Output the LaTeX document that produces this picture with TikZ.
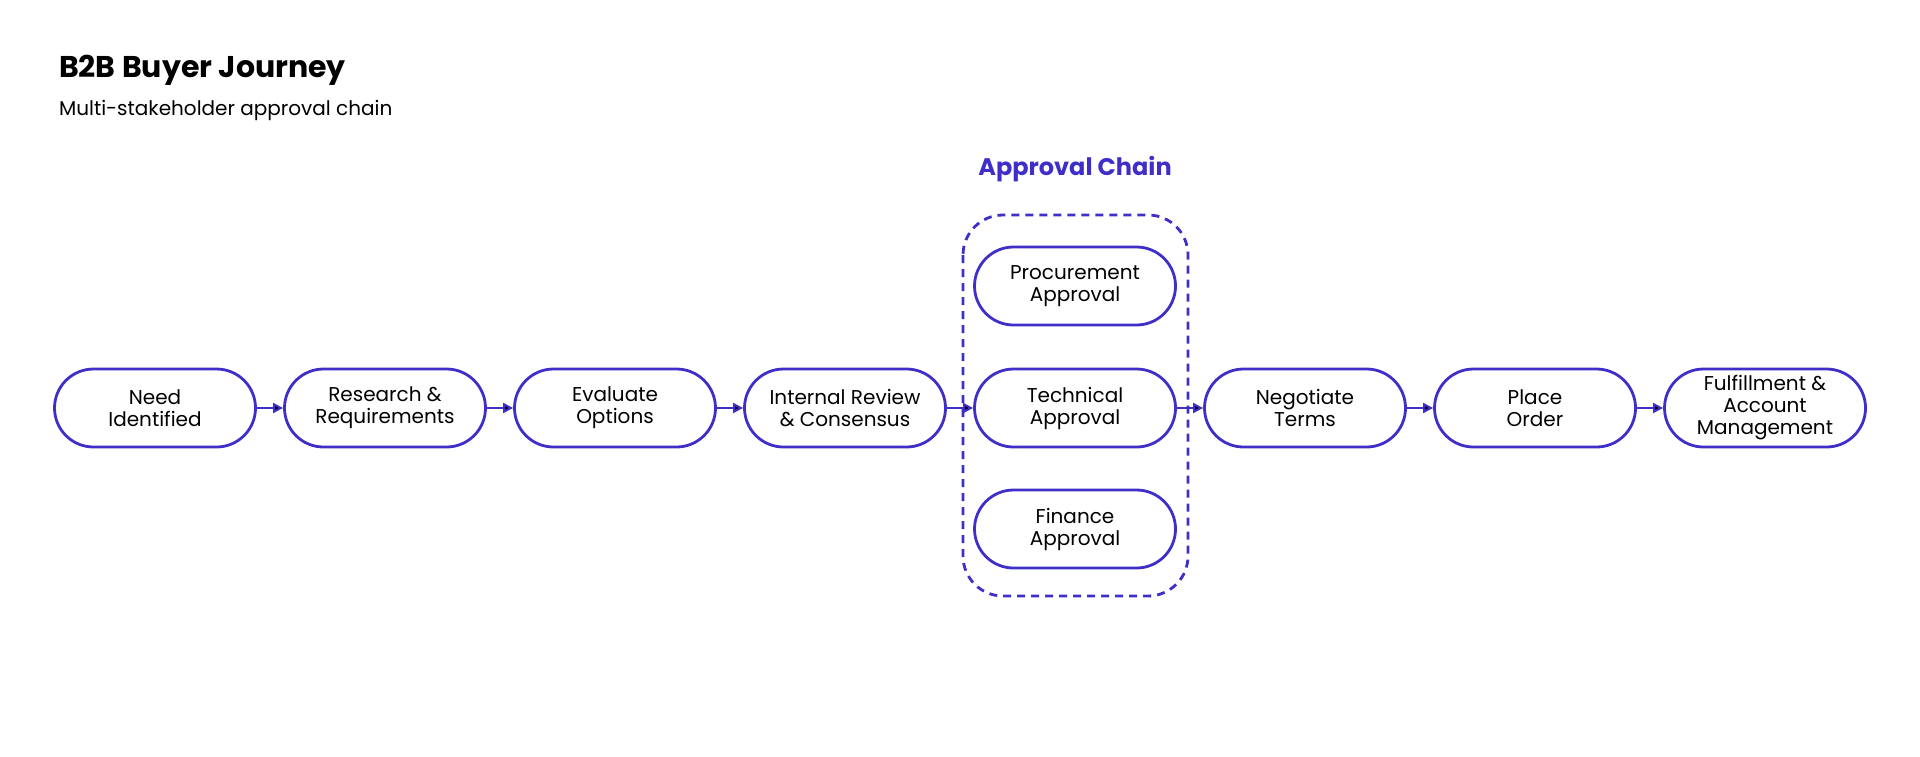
\documentclass[tikz,border=0pt]{standalone}
\usepackage{fontspec}
\setmainfont{Poppins}
\usetikzlibrary{positioning,arrows.meta}
\definecolor{chain}{HTML}{3F2FC8}
\begin{document}
\begin{tikzpicture}[x=0.5pt,y=-0.5pt,>={Triangle[length=5pt,width=5pt]},
        stage/.style={draw=chain,line width=1.4pt,rounded corners=19.5pt,minimum width=100.5pt,
          minimum height=39pt,align=center,font=\fontsize{10}{11}\selectfont,inner sep=1pt},
        link/.style={->,draw=chain,line width=1pt}]
        \useasboundingbox (0,0) rectangle (1920,756);
        \node[anchor=west,font=\bfseries\fontsize{15}{18}\selectfont] (title) at (52,70) {B2B Buyer Journey};
        \node[anchor=west,font=\fontsize{10}{12}\selectfont] (sub) at (52,110) {Multi-stakeholder approval chain};
        % approval group
        \draw[chain,line width=1.4pt,dashed,dash pattern=on 4pt off 3pt,rounded corners=20pt] (963,215) rectangle (1188,596);
        \node[text=chain,font=\bfseries\fontsize{12}{14}\selectfont] (grp) at (1075,169) {Approval Chain};
        \node[stage] (1) at (155,408) {Need\\Identified};
        \node[stage] (2) at (385,408) {Research \&\\Requirements};
        \node[stage] (3) at (615,408) {Evaluate\\Options};
        \node[stage] (4) at (845,408) {Internal Review\\\& Consensus};
        \node[stage] (5) at (1075,408) {Technical\\Approval};
        \node[stage] (5a) at (1075,286) {Procurement\\Approval};
        \node[stage] (5b) at (1075,529) {Finance\\Approval};
        \node[stage] (6) at (1305,408) {Negotiate\\Terms};
        \node[stage] (7) at (1535,408) {Place\\Order};
        \node[stage] (8) at (1765,408) {Fulfillment \&\\Account\\Management};
        \path[link]
          (1) edge (2)
          (2) edge (3)
          (3) edge (4)
          (4) edge (5)
          (5) edge (6)
          (6) edge (7)
          (7) edge (8)
          ;
      \end{tikzpicture}
\end{document}
